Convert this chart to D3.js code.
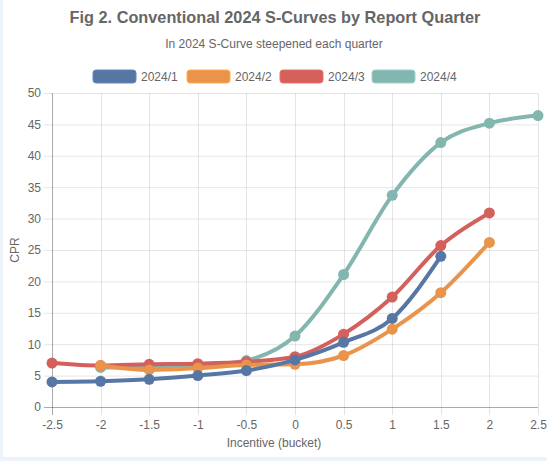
<!DOCTYPE html>
<html><head><meta charset="utf-8">
<script src="https://cdn.jsdelivr.net/npm/d3@7"></script>
<style>
html,body{margin:0;padding:0;background:#edf3fa;}
svg{display:block;}
</style></head>
<body>
<svg id="c" width="547" height="461"></svg>
<script>
const xTicks = [-2.5,-2,-1.5,-1,-0.5,0,0.5,1,1.5,2,2.5];
const yTicks = [0,5,10,15,20,25,30,35,40,45,50];
const seriesNames = ["2024/1","2024/2","2024/3","2024/4"];
const seriesColors = ["#5677a4","#e9944a","#d3605b","#84b6b0"];
const q1X = [-2.5,-2,-1.5,-1,-0.5,0,0.5,1,1.5];
const q1Y = [4.0,4.1,4.4,5.0,5.8,7.5,10.3,14.1,24.0];
const q2X = [-2,-1.5,-1,-0.5,0,0.5,1,1.5,2];
const q2Y = [6.6,5.9,6.2,6.7,6.8,8.2,12.4,18.2,26.2];
const q3X = [-2.5,-2,-1.5,-1,-0.5,0,0.5,1,1.5,2];
const q3Y = [7.0,6.6,6.8,6.9,7.2,8.0,11.6,17.5,25.7,30.9];
const q4X = [-2,-1.5,-1,-0.5,0,0.5,1,1.5,2,2.5];
const q4Y = [6.3,6.3,6.5,7.4,11.3,21.1,33.7,42.1,45.2,46.4];

const series = [
  {name: seriesNames[0], color: seriesColors[0], pts: q1X.map((x,i)=>[x,q1Y[i]])},
  {name: seriesNames[1], color: seriesColors[1], pts: q2X.map((x,i)=>[x,q2Y[i]])},
  {name: seriesNames[2], color: seriesColors[2], pts: q3X.map((x,i)=>[x,q3Y[i]])},
  {name: seriesNames[3], color: seriesColors[3], pts: q4X.map((x,i)=>[x,q4Y[i]])}
];

const svg = d3.select("#c");
const font = "'Liberation Sans', Arial, Helvetica, sans-serif";
svg.append("rect").attr("x",3).attr("y",0).attr("width",544).attr("height",457).attr("fill","#fff");

const x = d3.scaleLinear().domain([-2.5,2.5]).range([52,538]);
const y = d3.scaleLinear().domain([0,50]).range([407,93]);

// title
svg.append("text").attr("x",275).attr("y",23).attr("text-anchor","middle")
  .attr("font-family",font).attr("font-size",16.3).attr("font-weight","bold").attr("fill","#666")
  .text("Fig 2. Conventional 2024 S-Curves by Report Quarter");
svg.append("text").attr("x",274).attr("y",48).attr("text-anchor","middle")
  .attr("font-family",font).attr("font-size",12).attr("fill","#666")
  .text("In 2024 S-Curve steepened each quarter");

// legend
const legendX = [93,187,280,372];
const lg = svg.append("g");
series.forEach((s,i)=>{
  lg.append("rect").attr("x",legendX[i]).attr("y",70).attr("width",43).attr("height",13)
    .attr("rx",3).attr("fill",s.color).attr("stroke",d3.color(s.color).brighter(0.4)).attr("stroke-width",1);
  lg.append("text").attr("x",legendX[i]+48).attr("y",81).attr("font-family",font)
    .attr("font-size",12).attr("fill","#666").text(s.name);
});

// grid
const grid = svg.append("g");
yTicks.forEach(t=>{
  grid.append("line").attr("x1",44).attr("x2",538).attr("y1",y(t)+0.5).attr("y2",y(t)+0.5)
    .attr("stroke","rgba(0,0,0,0.1)");
});
xTicks.forEach(t=>{
  grid.append("line").attr("x1",Math.round(x(t))+0.5).attr("x2",Math.round(x(t))+0.5).attr("y1",93).attr("y2",415)
    .attr("stroke","rgba(0,0,0,0.1)");
});
// axes with d3
const xAxis = d3.axisBottom(x).tickValues(xTicks).tickSize(0).tickPadding(13);
const yAxis = d3.axisLeft(y).tickValues(yTicks).tickSize(0).tickPadding(11);
const gx = svg.append("g").attr("transform","translate(0,407)").call(xAxis);
const gy = svg.append("g").attr("transform","translate(52,0)").call(yAxis);
[gx,gy].forEach(g=>{
  g.select(".domain").remove();
  g.selectAll("text").attr("font-family",font).attr("font-size",12).attr("fill","#666");
});
gx.selectAll("text").text(d=>String(d));
svg.append("line").attr("x1",44).attr("x2",538).attr("y1",407.5).attr("y2",407.5).attr("stroke","rgba(0,0,0,0.25)");
svg.append("line").attr("x1",52.5).attr("x2",52.5).attr("y1",93).attr("y2",415).attr("stroke","rgba(0,0,0,0.25)");

svg.append("text").attr("x",274).attr("y",447).attr("text-anchor","middle")
  .attr("font-family",font).attr("font-size",12).attr("fill","#666").text("Incentive (bucket)");
svg.append("text").attr("transform","translate(19,250) rotate(-90)").attr("text-anchor","middle")
  .attr("font-family",font).attr("font-size",12).attr("fill","#666").text("CPR");

// lines
const line = d3.line().x(d=>x(d[0])).y(d=>y(d[1])).curve(d3.curveMonotoneX);
const plot = svg.append("g");
series.slice().reverse().forEach(s=>{
  const g = plot.append("g");
  g.append("path").attr("d",line(s.pts)).attr("fill","none").attr("stroke",s.color)
    .attr("stroke-width",4).attr("stroke-linejoin","round");
  g.selectAll("circle").data(s.pts).join("circle")
    .attr("cx",d=>x(d[0])).attr("cy",d=>y(d[1])).attr("r",5.5).attr("fill",s.color);
});
</script>
</body></html>
